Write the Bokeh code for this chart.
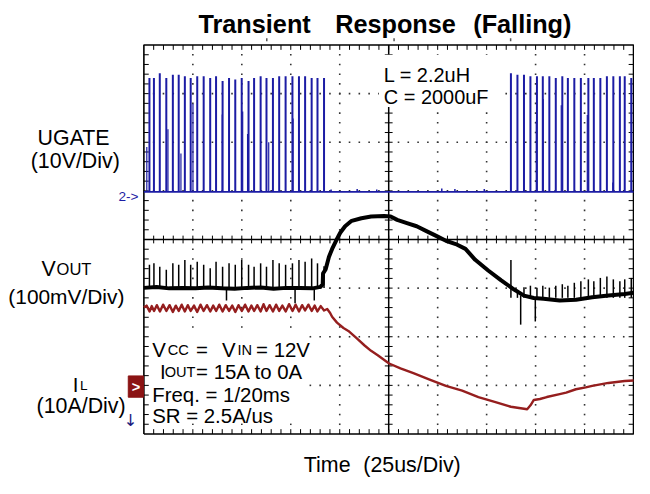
import numpy as np
from bokeh.plotting import figure
from bokeh.models import Range1d
from bokeh.core.properties import value
from bokeh.embed import file_html
from bokeh.resources import INLINE

# ---------------- data ----------------
# x: time in microseconds from the left edge of the screen (25 us/div, 10 div)
# y: screen divisions from the bottom edge (8 div)

ugate_base = 4.98
ugate_t_a = [2.84, 5.13, 8.12, 11.45, 14.79, 17.78, 20.92, 23.90, 27.24, 30.53,
             33.86, 36.85, 40.19, 43.48, 46.66, 49.95, 53.44, 56.27, 59.61, 62.60,
             65.89, 69.08, 72.36, 75.85, 79.18, 82.32, 85.66, 88.64, 91.98]
ugate_pk_a = [7.32, 7.32, 7.42, 7.32, 7.39, 7.39, 7.36, 7.32, 7.36, 7.36,
              7.32, 7.36, 7.26, 7.32, 7.29, 7.32, 7.26, 7.32, 7.36, 7.32,
              7.32, 7.36, 7.36, 7.36, 7.36, 7.36, 7.32, 7.32, 7.32]
ugate_t_b = [187.40, 190.73, 194.07, 197.36, 200.69, 203.68, 207.02, 210.31, 213.64, 216.48,
             219.77, 223.11, 226.94, 229.73, 233.06, 236.40, 239.69, 243.03, 245.51, 248.85]
ugate_pk_b = [7.42, 7.39, 7.39, 7.36, 7.36, 7.36, 7.36, 7.32, 7.36, 7.32,
              7.32, 7.32, 7.32, 7.32, 7.32, 7.36, 7.36, 7.36, 7.36, 7.32]
ugate_part_t = [1.49, 12.29, 18.92, 25.06, 40.0, 50.45, 52.94, 63.74, 76.19,
                200.36, 203.9, 213.1, 226.4, 239.4]
ugate_part_pk = [5.90, 6.27, 5.77, 6.79, 6.57, 6.63, 6.17, 6.00, 6.49,
                 6.43, 6.89, 6.76, 6.56, 5.17]
ugate_blip_t = [95.6, 108.9, 118.9, 152.1, 158.8, 173.8]
ugate_blip_pk = [5.03, 5.04, 5.03, 5.05, 5.04, 5.04]

vout_t = [0.0, 6.47, 12.95, 19.92, 26.39, 32.87, 39.84, 46.31, 52.79, 59.76,
          66.24, 72.71, 79.68, 86.16, 90.14, 91.29, 91.49, 92.78, 94.47, 96.12,
          98.11, 100.25, 102.74, 106.08, 111.06, 116.04, 122.66, 126.0, 129.33, 134.31,
          139.29, 144.27, 149.25, 154.23, 159.21, 164.19, 169.17, 175.8, 182.27, 189.24,
          194.07, 199.05, 204.03, 212.30, 220.62, 228.93, 237.20, 245.52, 250.0]
vout_y = [3.005, 3.025, 2.995, 3.005, 2.995, 3.015, 2.995, 2.985, 3.005, 3.015,
          2.985, 3.005, 3.005, 2.995, 3.025, 3.079, 3.303, 3.383, 3.642, 3.807,
          3.974, 4.139, 4.273, 4.384, 4.438, 4.472, 4.484, 4.472, 4.404, 4.338,
          4.273, 4.173, 4.074, 3.974, 3.906, 3.807, 3.582, 3.363, 3.164, 2.965,
          2.846, 2.796, 2.780, 2.746, 2.760, 2.812, 2.846, 2.880, 2.905]
vout_base_a = 3.0
vout_spk_a = [3.48, 3.51, 3.44, 3.38, 3.51, 3.48, 3.58, 3.48, 3.54, 3.48,
              3.41, 3.54, 3.44, 3.51, 3.48, 3.58, 3.48, 3.44, 3.51, 3.44,
              3.58, 3.51, 3.48, 3.51, 3.58, 3.54, 3.61, 3.51, 3.45]
vout_base_b = 2.80
vout_spk_b = [3.58, 2.95, 3.02, 3.05, 3.01, 3.05, 3.01, 3.05, 3.08, 3.05,
              3.11, 3.14, 3.18, 3.14, 3.21, 3.24, 3.18, 3.14, 3.18, 3.21]
vout_dip_t = [42.18, 77.19, 87.0, 192.38, 199.85]
vout_dip_from = [2.99, 2.99, 2.99, 2.85, 2.80]
vout_dip_to = [2.746, 2.687, 2.746, 2.249, 2.314]

il_t = [0.0, 1.4, 2.9, 4.0, 5.2, 6.6, 8.2, 9.8, 11.5, 13.1, 14.8, 16.3, 17.8, 19.3,
        20.9, 22.4, 23.9, 25.6, 27.2, 28.9, 30.5, 32.2, 33.9, 35.4, 36.9, 38.5, 40.2,
        41.8, 43.5, 45.1, 46.7, 48.3, 50.0, 51.7, 53.4, 54.9, 56.3, 57.9, 59.6, 61.1,
        62.6, 64.2, 65.9, 67.5, 69.1, 70.7, 72.4, 74.1, 75.9, 77.5, 79.2, 80.8, 82.3,
        84.0, 85.7, 87.2, 88.6, 90.3, 92.0,
        93.6, 95.1, 96.1, 98.6, 101.9, 104.4, 108.6, 112.7, 116.0, 119.4, 125.2, 131.0,
        137.6, 145.9, 154.2, 162.5, 170.8, 179.1, 187.4, 190.7, 194.1, 195.7, 197.4,
        199.1, 202.2, 205.7, 212.3, 215.6, 220.6, 225.6, 228.9, 237.2, 245.5, 250.0]
il_y = [2.60, 2.64, 2.52, 2.63, 2.53, 2.65, 2.52, 2.66, 2.53, 2.65, 2.51, 2.64, 2.53, 2.66,
        2.52, 2.65, 2.53, 2.64, 2.51, 2.66, 2.53, 2.65, 2.52, 2.64, 2.53, 2.66, 2.52,
        2.65, 2.53, 2.64, 2.51, 2.65, 2.53, 2.66, 2.52, 2.64, 2.53, 2.65, 2.52, 2.67,
        2.53, 2.65, 2.52, 2.66, 2.53, 2.64, 2.52, 2.67, 2.53, 2.66, 2.52, 2.65, 2.54,
        2.66, 2.53, 2.64, 2.52, 2.63, 2.54,
        2.57, 2.49, 2.41, 2.29, 2.18, 2.12, 1.97, 1.82, 1.71, 1.62, 1.45, 1.35,
        1.25, 1.12, 0.99, 0.89, 0.76, 0.66, 0.56, 0.54, 0.52, 0.51, 0.59,
        0.70, 0.72, 0.76, 0.82, 0.85, 0.92, 0.96, 0.99, 1.05, 1.09, 1.10]

# ---------------- layout helpers (reference pixel -> data) ----------------
def X(px):
    return (px - 147.0) * 25.0 / 50.2

def Y(py):
    return (448.0 - py) / 50.25

W, H = 634, 478          # canvas fits the 650x494 window with its 8px margin
FS = 0.972               # reference is 650x494: scale texts to the canvas

BLUE = "#1c1ca4"
RED = "#951e1e"

p = figure(width=W, height=H, x_range=Range1d(X(0), X(650)),
           y_range=Range1d(Y(494), Y(0)), x_axis_type=None, y_axis_type=None,
           toolbar_location=None, output_backend="svg", min_border=0, title=None)
p.outline_line_color = None
p.background_fill_color = "white"
p.border_fill_color = "white"

# ---- graticule ----
vk = [25 * k for k in (1, 2, 3, 4, 6, 7, 8, 9)]
jj = np.arange(1, 40) * 0.2
gx1, gy1 = np.meshgrid(vk, jj)
hm = [1, 2, 3, 5, 6, 7]
ii = np.arange(1, 50) * 5.0
gx2, gy2 = np.meshgrid(ii, hm)
p.scatter(np.concatenate([gx1.ravel(), gx2.ravel()]),
          np.concatenate([gy1.ravel(), gy2.ravel()]),
          marker="square", size=1.6, fill_color="#333333", line_color=None)

p.line([0, 250, 250, 0, 0], [0, 0, 8, 8, 0], line_color="black", line_width=1.6)
p.segment(x0=[125, 0], y0=[0, 4], x1=[125, 250], y1=[8, 4], line_color="black", line_width=1.5)

tlx = 5.0 / 50.2 * 25.0
tly = 5.0 / 50.25
cx = 4.0 / 50.2 * 25.0
cy = 4.0 / 50.25
tx = ii
ty = jj
seg_x0 = np.concatenate([tx, tx, tx, np.zeros_like(ty), np.full_like(ty, 250.0), np.full_like(ty, 125 - cx)])
seg_x1 = np.concatenate([tx, tx, tx, np.full_like(ty, tlx), np.full_like(ty, 250.0 - tlx), np.full_like(ty, 125 + cx)])
seg_y0 = np.concatenate([np.full_like(tx, 8.0), np.zeros_like(tx), np.full_like(tx, 4 - cy), ty, ty, ty])
seg_y1 = np.concatenate([np.full_like(tx, 8.0 - tly), np.full_like(tx, tly), np.full_like(tx, 4 + cy), ty, ty, ty])
p.segment(x0=seg_x0, y0=seg_y0, x1=seg_x1, y1=seg_y1, line_color="black", line_width=1)

# small trigger marks above the screen
p.segment(x0=[X(273), X(403.5), X(523)], y0=[Y(42)] * 3, x1=[X(273), X(403.5), X(523)],
          y1=[Y(39)] * 3, line_color="#555555", line_width=1.5)

# white backgrounds of the on-screen notes
p.quad(left=[X(388), X(153)], right=[X(512), X(316)], bottom=[Y(110), Y(437)],
       top=[Y(56), Y(342)], fill_color="white", line_color=None)

# ---- traces ----
p.line([0, 250], [ugate_base, ugate_base], line_color=BLUE, line_width=1.6)
p.segment(x0=ugate_blip_t, y0=[ugate_base] * len(ugate_blip_t), x1=ugate_blip_t, y1=ugate_blip_pk,
          line_color=BLUE, line_width=1.5)
p.segment(x0=ugate_part_t, y0=[ugate_base] * len(ugate_part_t), x1=ugate_part_t, y1=ugate_part_pk,
          line_color=BLUE, line_width=1.2)
p.segment(x0=ugate_t_a, y0=[ugate_base] * len(ugate_t_a), x1=ugate_t_a, y1=ugate_pk_a,
          line_color=BLUE, line_width=2)
p.segment(x0=ugate_t_b, y0=[ugate_base] * len(ugate_t_b), x1=ugate_t_b, y1=ugate_pk_b,
          line_color=BLUE, line_width=2)

p.line(il_t, il_y, line_color=RED, line_width=2.4, line_join="round")

p.line(vout_t, vout_y, line_color="black", line_width=4, line_join="round")
p.segment(x0=ugate_t_a, y0=[vout_base_a] * len(ugate_t_a), x1=ugate_t_a, y1=vout_spk_a,
          line_color="black", line_width=1.5)
p.segment(x0=ugate_t_b, y0=[vout_base_b] * len(ugate_t_b), x1=ugate_t_b, y1=vout_spk_b,
          line_color="black", line_width=1.5)
p.segment(x0=vout_dip_t, y0=vout_dip_from, x1=vout_dip_t, y1=vout_dip_to,
          line_color="black", line_width=1.5)

# ---- markers at the left edge ----
p.quad(left=[X(131)], right=[X(146.5)], bottom=[Y(410)], top=[Y(388)],
       fill_color="#8b1414", line_color="#8b1414")

# ---- texts ----
def txt(px, py, s, size, color="black", style="normal", align="left",
        baseline="alphabetic", font="Liberation Sans"):
    p.text(x=[X(px)], y=[Y(py)], text=[s], text_font=value(font),
           text_font_size=value(f"{size * FS:.2f}px"), text_font_style=style,
           text_color=color, text_align=align, text_baseline=baseline)

txt(260.5, 24, "Transient", 26, style="bold", align="center")
txt(405, 24, "Response", 26, style="bold", align="center")
txt(535, 24, "(Falling)", 26, style="bold", align="center")

txt(393, 76.7, "L = 2.2uH", 20.5)
txt(393, 100, "C = 2000uF", 20.5)

txt(38, 142, "UGATE", 22)
txt(31, 165.5, "(10V/Div)", 22)
txt(42, 278, "V", 22)
txt(57.5, 278, "OUT", 17)
txt(8, 305.5, "(100mV/Div)", 21.5)
txt(74, 397, "I", 21)
txt(81.5, 398, "L", 14)
txt(37, 419, "(10A/Div)", 22)

txt(121, 203, "2->", 14, color=BLUE)
txt(139, 399.5, ">", 15, color="white", style="bold", align="center", baseline="middle")
txt(133.5, 434, "\u2193", 17, color="#1a1a80", align="center", baseline="middle",
    font="DejaVu Sans")

txt(155.5, 361, "V", 21)
txt(171.5, 361, "CC", 15)
txt(200.5, 361, "=", 21)
txt(227, 361, "V", 21)
txt(243, 361, "IN", 15)
txt(262, 361, "= 12V", 21)
txt(163.5, 383.5, "I", 21)
txt(168.3, 383.5, "OUT", 15)
txt(200.5, 383.5, "= 15A to 0A", 21)
txt(155.5, 407.3, "Freq. = 1/20ms", 21)
txt(155.5, 429.3, "SR = 2.5A/us", 21)

txt(311, 480, "Time", 22)
txt(372, 480, "(25us/Div)", 22)

open("out.html", "w").write(file_html(p, INLINE))
